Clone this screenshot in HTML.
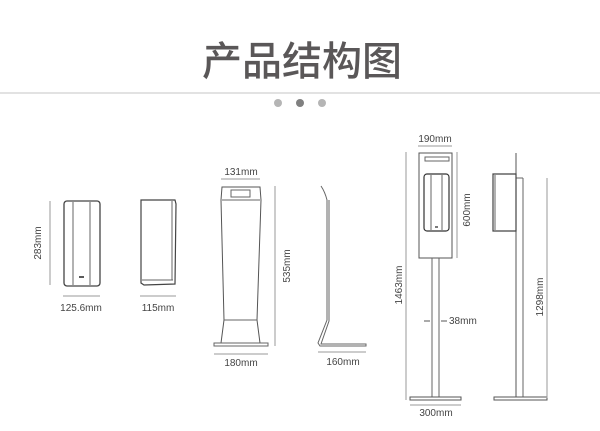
<!DOCTYPE html>
<html><head><meta charset="utf-8"><style>
html,body{margin:0;padding:0;background:#fff;width:600px;height:431px;overflow:hidden}
svg{display:block}
text{font-family:"Liberation Sans","Noto Sans CJK SC",sans-serif;fill:#444;font-size:10px}
</style></head><body>
<svg width="600" height="431" viewBox="0 0 600 431" xmlns="http://www.w3.org/2000/svg">
<text x="302" y="75" text-anchor="middle" style="font-size:40px;font-weight:500;fill:#5a5758;font-family:'Noto Sans CJK SC',sans-serif">产品结构图</text>
<line x1="0" y1="93" x2="600" y2="93" stroke="#c4c4c4" stroke-width="1"/>
<circle cx="278" cy="103" r="4" fill="#b5b5b5"/>
<circle cx="300" cy="103" r="4" fill="#808080"/>
<circle cx="322" cy="103" r="4" fill="#b5b5b5"/>
<g fill="none" stroke="#666" stroke-width="1">
<rect x="64" y="201" width="36" height="85" rx="3" stroke="#444" stroke-width="1.3"/>
<line x1="73" y1="202" x2="73" y2="285"/><line x1="90" y1="202" x2="90" y2="285"/>
<line x1="79" y1="277" x2="84" y2="277" stroke="#222" stroke-width="1.5"/>
<line x1="50" y1="201" x2="50" y2="285" stroke="#999"/>
<line x1="63" y1="296" x2="100" y2="296" stroke="#999"/>
<path d="M141 200 L175 200 L176 204 L175 284 L144 285 L141 283 Z" stroke="#444" stroke-width="1.2"/>
<line x1="172" y1="201" x2="172" y2="280"/>
<line x1="142" y1="280" x2="173" y2="280"/>
<line x1="140" y1="296" x2="176" y2="296" stroke="#999"/>
<path d="M222 187 L260 187 L261 200 L257 320 L260 343 L221 343 L224 320 L221 200 Z" stroke="#555"/>
<line x1="222" y1="200" x2="260" y2="200"/>
<rect x="231" y="190" width="19" height="7"/>
<line x1="224" y1="320" x2="257" y2="320"/>
<rect x="214" y="343" width="54" height="3"/>
<line x1="221" y1="179" x2="260" y2="179" stroke="#999"/>
<line x1="275" y1="186" x2="275" y2="346" stroke="#999"/>
<line x1="214" y1="354" x2="268" y2="354" stroke="#999"/>
<path d="M321 186 Q325 192 327 200 L327 320 L318 343 L320 346 L366 346 L366 344 L321 344 L329 321 L329 200" stroke="#666"/>
<line x1="318" y1="352" x2="366" y2="352" stroke="#999"/>
<rect x="419" y="153" width="33" height="105" stroke="#555"/>
<rect x="425" y="157" width="24" height="4"/>
<rect x="424" y="174" width="25" height="57" rx="3" stroke="#333" stroke-width="1.2"/>
<line x1="431" y1="175" x2="431" y2="230"/><line x1="442" y1="175" x2="442" y2="230"/>
<line x1="435" y1="227" x2="438" y2="227" stroke="#222" stroke-width="1.2"/>
<line x1="432" y1="258" x2="432" y2="397"/><line x1="439" y1="258" x2="439" y2="397"/>
<rect x="410" y="397" width="51" height="3" stroke="#555"/>
<line x1="418" y1="146" x2="452" y2="146" stroke="#999"/>
<line x1="457" y1="152" x2="457" y2="258" stroke="#999"/>
<line x1="406" y1="152" x2="406" y2="400" stroke="#999"/>
<line x1="424" y1="321" x2="430" y2="321" stroke="#555"/>
<line x1="441" y1="321" x2="447" y2="321" stroke="#555"/>
<line x1="410" y1="405" x2="461" y2="405" stroke="#999"/>
<line x1="516" y1="153" x2="516" y2="397" stroke="#555"/>
<line x1="523" y1="178" x2="523" y2="397"/>
<line x1="516" y1="178" x2="523" y2="178"/>
<path d="M493 174 L516 174 L516 231 L493 231 Z" stroke="#444" stroke-width="1.2"/>
<line x1="495" y1="175" x2="495" y2="230"/>
<rect x="494" y="397" width="53" height="3" stroke="#555"/>
<line x1="547" y1="178" x2="547" y2="398" stroke="#999"/>
</g>
<text x="81" y="311" text-anchor="middle">125.6mm</text>
<text x="158" y="311" text-anchor="middle">115mm</text>
<text x="241" y="175" text-anchor="middle">131mm</text>
<text x="241" y="366" text-anchor="middle">180mm</text>
<text x="343" y="365" text-anchor="middle">160mm</text>
<text x="435" y="142" text-anchor="middle">190mm</text>
<text x="436" y="416" text-anchor="middle">300mm</text>
<text x="449" y="324">38mm</text>
<text transform="translate(41,243) rotate(-90)" text-anchor="middle">283mm</text>
<text transform="translate(290,266) rotate(-90)" text-anchor="middle">535mm</text>
<text transform="translate(470,210) rotate(-90)" text-anchor="middle">600mm</text>
<text transform="translate(402,285) rotate(-90)" text-anchor="middle">1463mm</text>
<text transform="translate(543,297) rotate(-90)" text-anchor="middle">1298mm</text>
</svg>
</body></html>
